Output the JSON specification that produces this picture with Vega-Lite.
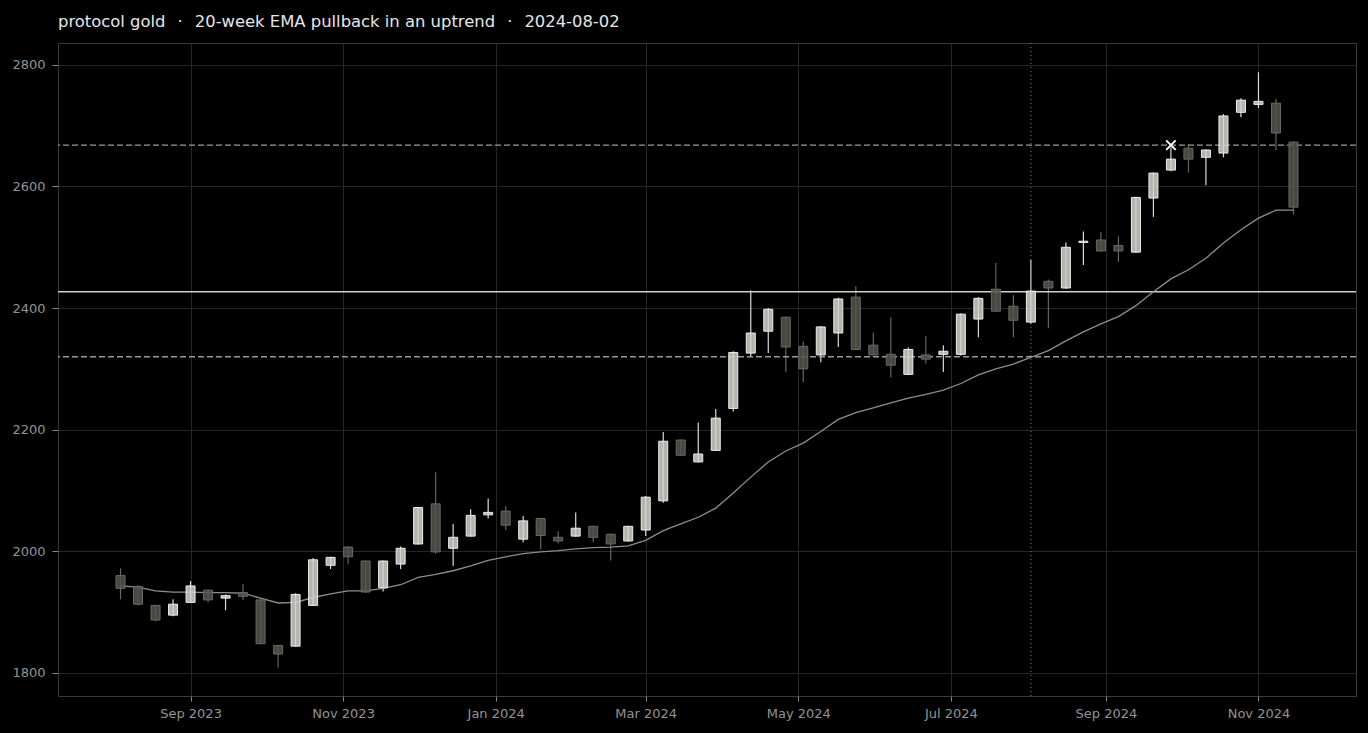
{
  "$schema": "https://vega.github.io/schema/vega-lite/v6.json",
  "width": 1298,
  "height": 653,
  "autosize": {"type": "none"},
  "padding": {"left": 58, "top": 43, "right": 12, "bottom": 37},
  "background": "#000000",
  "title": {
    "text": "protocol gold \u200a\u00a0·\u00a0\u200a 20-week EMA pullback in an uptrend \u200a\u00a0·\u00a0\u200a 2024-08-02",
    "anchor": "start",
    "frame": "group",
    "baseline": "alphabetic",
    "offset": -1,
    "font": "DejaVu Sans",
    "fontSize": 16.4,
    "fontWeight": "normal",
    "color": "#e6e6e6"
  },
  "config": {
    "view": {"stroke": "#3a3a3a", "strokeWidth": 1},
    "axis": {
      "domain": false,
      "gridColor": "#262626",
      "gridWidth": 1,
      "tickColor": "#888888",
      "tickSize": 6,
      "labelColor": "#939393",
      "labelFont": "DejaVu Sans",
      "labelFontSize": 13,
      "title": null
    }
  },
  "datasets": {
    "candles": [
      {"date": "2023-08-04", "open": 1960, "high": 1972, "low": 1921, "close": 1939, "ema": 1943},
      {"date": "2023-08-11", "open": 1942, "high": 1944, "low": 1911, "close": 1913, "ema": 1941},
      {"date": "2023-08-18", "open": 1911, "high": 1912, "low": 1885, "close": 1887, "ema": 1935},
      {"date": "2023-08-25", "open": 1895, "high": 1921, "low": 1893, "close": 1913, "ema": 1933},
      {"date": "2023-09-01", "open": 1916, "high": 1951, "low": 1915, "close": 1943, "ema": 1933},
      {"date": "2023-09-08", "open": 1936, "high": 1937, "low": 1916, "close": 1920, "ema": 1932},
      {"date": "2023-09-15", "open": 1923, "high": 1929, "low": 1903, "close": 1927, "ema": 1932},
      {"date": "2023-09-22", "open": 1932, "high": 1946, "low": 1920, "close": 1926, "ema": 1931},
      {"date": "2023-09-29", "open": 1920, "high": 1921, "low": 1847, "close": 1848, "ema": 1923},
      {"date": "2023-10-06", "open": 1845, "high": 1846, "low": 1809, "close": 1831, "ema": 1915},
      {"date": "2023-10-13", "open": 1844, "high": 1931, "low": 1843, "close": 1929, "ema": 1916},
      {"date": "2023-10-20", "open": 1911, "high": 1989, "low": 1910, "close": 1986, "ema": 1924},
      {"date": "2023-10-27", "open": 1977, "high": 1991, "low": 1971, "close": 1990, "ema": 1930},
      {"date": "2023-11-03", "open": 2007, "high": 2008, "low": 1979, "close": 1991, "ema": 1935},
      {"date": "2023-11-10", "open": 1984, "high": 1985, "low": 1932, "close": 1933, "ema": 1935},
      {"date": "2023-11-17", "open": 1940, "high": 1985, "low": 1934, "close": 1984, "ema": 1939},
      {"date": "2023-11-24", "open": 1979, "high": 2008, "low": 1971, "close": 2005, "ema": 1945},
      {"date": "2023-12-01", "open": 2012, "high": 2073, "low": 2011, "close": 2072, "ema": 1957},
      {"date": "2023-12-08", "open": 2078, "high": 2130, "low": 1996, "close": 1999, "ema": 1962},
      {"date": "2023-12-15", "open": 2005, "high": 2045, "low": 1976, "close": 2023, "ema": 1968},
      {"date": "2023-12-22", "open": 2025, "high": 2069, "low": 2024, "close": 2059, "ema": 1976},
      {"date": "2023-12-29", "open": 2060, "high": 2087, "low": 2054, "close": 2064, "ema": 1985},
      {"date": "2024-01-05", "open": 2066, "high": 2074, "low": 2035, "close": 2043, "ema": 1991},
      {"date": "2024-01-12", "open": 2020, "high": 2058, "low": 2015, "close": 2050, "ema": 1996},
      {"date": "2024-01-19", "open": 2054, "high": 2055, "low": 2003, "close": 2026, "ema": 1999},
      {"date": "2024-01-26", "open": 2023, "high": 2033, "low": 2013, "close": 2017, "ema": 2001},
      {"date": "2024-02-02", "open": 2025, "high": 2064, "low": 2024, "close": 2038, "ema": 2004},
      {"date": "2024-02-09", "open": 2041, "high": 2042, "low": 2015, "close": 2023, "ema": 2006},
      {"date": "2024-02-16", "open": 2028, "high": 2029, "low": 1985, "close": 2012, "ema": 2007},
      {"date": "2024-02-23", "open": 2017, "high": 2042, "low": 2016, "close": 2041, "ema": 2009},
      {"date": "2024-03-01", "open": 2035, "high": 2091, "low": 2025, "close": 2089, "ema": 2018},
      {"date": "2024-03-08", "open": 2083, "high": 2196, "low": 2080, "close": 2181, "ema": 2034},
      {"date": "2024-03-15", "open": 2183, "high": 2184, "low": 2157, "close": 2158, "ema": 2045},
      {"date": "2024-03-22", "open": 2147, "high": 2212, "low": 2146, "close": 2160, "ema": 2056},
      {"date": "2024-03-29", "open": 2166, "high": 2234, "low": 2165, "close": 2219, "ema": 2071},
      {"date": "2024-04-05", "open": 2235, "high": 2329, "low": 2230, "close": 2327, "ema": 2096},
      {"date": "2024-04-12", "open": 2326, "high": 2429, "low": 2320, "close": 2359, "ema": 2122},
      {"date": "2024-04-19", "open": 2362, "high": 2400, "low": 2326, "close": 2398, "ema": 2147},
      {"date": "2024-04-26", "open": 2385, "high": 2386, "low": 2295, "close": 2336, "ema": 2165},
      {"date": "2024-05-03", "open": 2337, "high": 2345, "low": 2278, "close": 2300, "ema": 2178},
      {"date": "2024-05-10", "open": 2323, "high": 2370, "low": 2311, "close": 2369, "ema": 2197},
      {"date": "2024-05-17", "open": 2359, "high": 2417, "low": 2336, "close": 2415, "ema": 2217},
      {"date": "2024-05-24", "open": 2418, "high": 2436, "low": 2331, "close": 2332, "ema": 2228},
      {"date": "2024-05-31", "open": 2339, "high": 2360, "low": 2322, "close": 2323, "ema": 2236},
      {"date": "2024-06-07", "open": 2324, "high": 2385, "low": 2286, "close": 2306, "ema": 2244},
      {"date": "2024-06-14", "open": 2291, "high": 2335, "low": 2290, "close": 2332, "ema": 2252},
      {"date": "2024-06-21", "open": 2323, "high": 2354, "low": 2309, "close": 2316, "ema": 2258},
      {"date": "2024-06-28", "open": 2324, "high": 2339, "low": 2295, "close": 2329, "ema": 2265},
      {"date": "2024-07-05", "open": 2324, "high": 2391, "low": 2322, "close": 2390, "ema": 2276},
      {"date": "2024-07-12", "open": 2382, "high": 2418, "low": 2352, "close": 2416, "ema": 2290},
      {"date": "2024-07-19", "open": 2431, "high": 2474, "low": 2393, "close": 2395, "ema": 2300},
      {"date": "2024-07-26", "open": 2403, "high": 2421, "low": 2352, "close": 2380, "ema": 2308},
      {"date": "2024-08-02", "open": 2377, "high": 2479, "low": 2374, "close": 2428, "ema": 2319},
      {"date": "2024-08-09", "open": 2444, "high": 2447, "low": 2367, "close": 2433, "ema": 2330},
      {"date": "2024-08-16", "open": 2433, "high": 2508, "low": 2432, "close": 2500, "ema": 2346},
      {"date": "2024-08-23", "open": 2508, "high": 2526, "low": 2471, "close": 2510, "ema": 2361},
      {"date": "2024-08-30", "open": 2512, "high": 2525, "low": 2493, "close": 2494, "ema": 2374},
      {"date": "2024-09-06", "open": 2503, "high": 2518, "low": 2476, "close": 2494, "ema": 2386},
      {"date": "2024-09-13", "open": 2492, "high": 2583, "low": 2491, "close": 2582, "ema": 2404},
      {"date": "2024-09-20", "open": 2581, "high": 2623, "low": 2550, "close": 2622, "ema": 2427},
      {"date": "2024-09-27", "open": 2627, "high": 2664, "low": 2625, "close": 2645, "ema": 2448},
      {"date": "2024-10-04", "open": 2663, "high": 2670, "low": 2623, "close": 2645, "ema": 2463},
      {"date": "2024-10-11", "open": 2648, "high": 2661, "low": 2602, "close": 2660, "ema": 2482},
      {"date": "2024-10-18", "open": 2655, "high": 2719, "low": 2648, "close": 2716, "ema": 2507},
      {"date": "2024-10-25", "open": 2722, "high": 2745, "low": 2714, "close": 2742, "ema": 2529},
      {"date": "2024-11-01", "open": 2735, "high": 2788, "low": 2729, "close": 2740, "ema": 2548},
      {"date": "2024-11-08", "open": 2737, "high": 2744, "low": 2660, "close": 2688, "ema": 2561},
      {"date": "2024-11-15", "open": 2673, "high": 2674, "low": 2554, "close": 2566, "ema": 2561}
    ],
    "levels": [
      {"name": "target", "price": 2668},
      {"name": "stop", "price": 2320}
    ],
    "entry": [{"name": "entry", "price": 2427}],
    "signal": [{"date": "2024-08-02"}],
    "marker": [{"date": "2024-09-27", "price": 2668}]
  },
  "layer": [
    {
      "data": {"name": "candles"},
      "mark": {"type": "rule", "strokeWidth": 1.2},
      "encoding": {
        "x": {
          "field": "date",
          "type": "temporal",
          "scale": {"domain": ["2023-07-10", "2024-12-10"], "nice": false, "padding": 0},
          "axis": {"format": "%b %Y", "tickCount": {"interval": "month", "step": 2}, "tickSize": 5, "labelPadding": 6}
        },
        "y": {
          "field": "low",
          "type": "quantitative",
          "scale": {"domain": [1762, 2836], "nice": false, "zero": false},
          "axis": {"values": [1800, 2000, 2200, 2400, 2600, 2800], "format": "d", "labelPadding": 7}
        },
        "y2": {"field": "high"},
        "color": {
          "condition": {"test": "datum.close >= datum.open", "value": "#dcdcd6"},
          "value": "#66665f"
        }
      }
    },
    {
      "data": {"name": "signal"},
      "mark": {"type": "rule", "color": "#777777", "strokeWidth": 1, "strokeDash": [1, 3]},
      "encoding": {"x": {"field": "date", "type": "temporal"}}
    },
    {
      "data": {"name": "levels"},
      "mark": {"type": "rule", "color": "#9a9a9a", "strokeWidth": 1.3, "strokeDash": [6, 3]},
      "encoding": {"y": {"field": "price", "type": "quantitative"}}
    },
    {
      "data": {"name": "entry"},
      "mark": {"type": "rule", "color": "#cfcfcb", "strokeWidth": 1.5},
      "encoding": {"y": {"field": "price", "type": "quantitative"}}
    },
    {
      "data": {"name": "candles"},
      "mark": {"type": "line", "color": "#8e8e8a", "strokeWidth": 1.3},
      "encoding": {
        "x": {"field": "date", "type": "temporal"},
        "y": {"field": "ema", "type": "quantitative"}
      }
    },
    {
      "data": {"name": "candles"},
      "mark": {"type": "bar", "size": 9, "strokeWidth": 1, "fillOpacity": 0.85},
      "encoding": {
        "x": {"field": "date", "type": "temporal"},
        "y": {"field": "open", "type": "quantitative"},
        "y2": {"field": "close"},
        "fill": {
          "condition": {"test": "datum.close >= datum.open", "value": "#d4d4ce"},
          "value": "#55554f"
        },
        "stroke": {
          "condition": {"test": "datum.close >= datum.open", "value": "#eeeeea"},
          "value": "#6a6a64"
        }
      }
    },
    {
      "data": {"name": "marker"},
      "mark": {"type": "point", "shape": "M-1,-1L1,1M1,-1L-1,1", "size": 90, "filled": false, "stroke": "#ffffff", "strokeWidth": 2, "opacity": 1},
      "encoding": {
        "x": {"field": "date", "type": "temporal"},
        "y": {"field": "price", "type": "quantitative"}
      }
    }
  ]
}
